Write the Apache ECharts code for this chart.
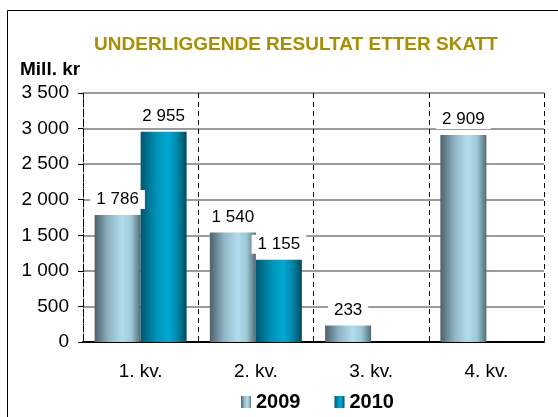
<!DOCTYPE html>
<html>
<head>
<meta charset="utf-8">
<script src="https://cdn.jsdelivr.net/npm/echarts@6/dist/echarts.min.js"></script>
<style>
  html, body { margin: 0; padding: 0; background: #fff; }
  #chart { width: 558px; height: 417px; }
</style>
</head>
<body>
<div id="chart"></div>
<script>
const quarters = ['1. kv.', '2. kv.', '3. kv.', '4. kv.']
const values2009 = [1786, 1540, 233, 2909]
const values2010 = [2955, 1155, null, null]
const yTicks = [0, 500, 1000, 1500, 2000, 2500, 3000, 3500]

const chart = echarts.init(document.getElementById('chart'))

// norsk tusenskille med mellomrom
function fmt(v) {
  return String(v).replace(/\B(?=(\d{3})+(?!\d))/g, ' ')
}

const grad2009 = new echarts.graphic.LinearGradient(0, 0, 1, 0, [
  { offset: 0, color: '#4b616b' },
  { offset: 0.3, color: '#8fb3c2' },
  { offset: 0.6, color: '#b0deef' },
  { offset: 0.8, color: '#9cc7d6' },
  { offset: 1, color: '#536a74' }
])
const grad2010 = new echarts.graphic.LinearGradient(0, 0, 1, 0, [
  { offset: 0, color: '#00586e' },
  { offset: 0.35, color: '#0093b8' },
  { offset: 0.6, color: '#00a8d4' },
  { offset: 0.8, color: '#0087a8' },
  { offset: 1, color: '#004a5e' }
])

const barLabel = {
  show: true,
  position: 'top',
  distance: 6,
  color: '#000',
  fontFamily: 'Liberation Sans',
  fontSize: 17,
  backgroundColor: '#fff',
  padding: [1, 6],
  formatter: p => fmt(p.value)
}

chart.setOption({
  animation: false,
  title: {
    text: 'UNDERLIGGENDE RESULTAT ETTER SKATT',
    left: 291,
    textAlign: 'center',
    top: 30,
    textStyle: { color: '#a88f00', fontFamily: 'Liberation Sans', fontSize: 19, fontWeight: 'bold' }
  },
  graphic: [
    {
      type: 'rect',
      shape: { x: 7.5, y: 10.5, width: 560, height: 420 },
      style: { fill: 'none', stroke: '#000', lineWidth: 1 },
      silent: true
    },
    {
      type: 'text',
      left: 20,
      top: 60,
      style: { text: 'Mill. kr', fill: '#000', font: 'bold 19px "Liberation Sans"' }
    }
  ],
  legend: {
    data: ['2009', '2010'],
    left: 236,
    top: 387,
    itemGap: 34,
    itemWidth: 10,
    itemHeight: 12,
    icon: 'rect',
    textStyle: { color: '#000', fontFamily: 'Liberation Sans', fontSize: 20, fontWeight: 'bold' }
  },
  grid: { left: 83, right: 14, top: 93, bottom: 75 },
  xAxis: {
    type: 'category',
    data: quarters,
    axisLine: { lineStyle: { color: '#000', width: 2 } },
    axisTick: { length: 5, lineStyle: { color: '#000' } },
    axisLabel: { color: '#000', fontFamily: 'Liberation Sans', fontSize: 19, margin: 20 },
    splitLine: { show: true, lineStyle: { color: '#000', type: [5, 4], width: 1 } }
  },
  yAxis: {
    type: 'value',
    min: 0,
    max: 3500,
    interval: 500,
    axisLine: { show: true, lineStyle: { color: '#000', type: [3, 2], width: 1 } },
    axisTick: { show: true, length: 5, lineStyle: { color: '#000' } },
    axisLabel: {
      color: '#000',
      fontFamily: 'Liberation Sans',
      fontSize: 19,
      margin: 14,
      formatter: v => yTicks.includes(v) ? fmt(v) : ''
    },
    splitLine: { lineStyle: { color: '#7a7a7a', width: 1.5 } }
  },
  series: [
    {
      name: '2009',
      type: 'bar',
      data: values2009,
      barWidth: 46,
      barGap: '0%',
      itemStyle: { color: grad2009 },
      label: barLabel
    },
    {
      name: '2010',
      type: 'bar',
      data: values2010,
      barWidth: 46,
      itemStyle: { color: grad2010 },
      label: barLabel
    }
  ]
})
</script>
</body>
</html>
